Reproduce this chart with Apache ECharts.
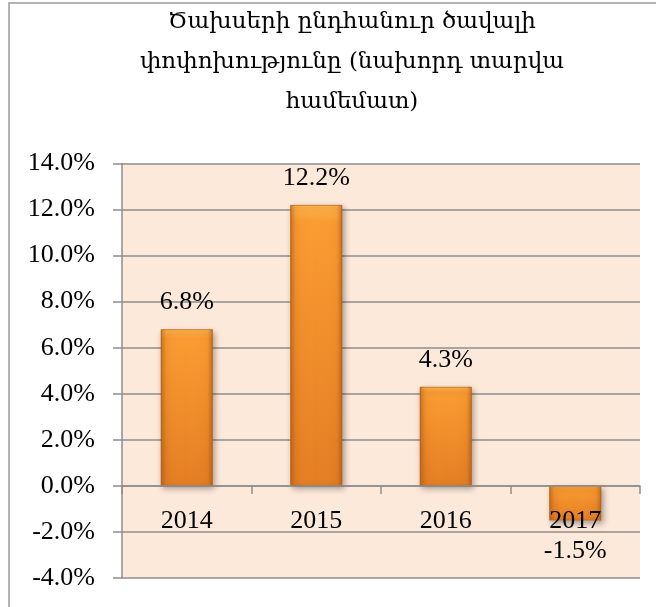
<!DOCTYPE html>
<html>
<head>
<meta charset="utf-8">
<style>
  html, body { margin: 0; padding: 0; background: #ffffff; }
  #chart { width: 656px; height: 607px; }
</style>
<script src="https://cdn.jsdelivr.net/npm/echarts@6/dist/echarts.min.js"></script>
</head>
<body>
<div id="chart"></div>
<script>
// Year-over-year change of total expenditure, percent
const years = ['2014', '2015', '2016', '2017'];
const changePct = [6.8, 12.2, 4.3, -1.5];
const titleLines = ['Ծախսերի ընդհանուր ծավալի', 'փոփոխությունը (նախորդ տարվա', 'համեմատ)'];
const yMin = -4, yMax = 14, yStep = 2;

const serif = '"Liberation Serif", "Times New Roman", serif';
const gridGray = '#8e8e8e';

const W = 656, H = 607;
const gridBox = { left: 122, right: 16, top: 163.5, bottom: 29 };
// the category axis sits on the zero line: shift it up from the bottom edge
const plotH = H - gridBox.top - gridBox.bottom;
const zeroOffset = -plotH * (0 - yMin) / (yMax - yMin);

const chart = echarts.init(document.getElementById('chart'), null, { renderer: 'canvas' });

const pct = v => v.toFixed(1) + '%';

// main bars: vertical orange gradient, labels above (below for negatives)
const barData = changePct.map(v => ({
  value: v,
  label: v < 0 ? { position: 'bottom', distance: 18 } : { position: 'top', distance: 14 }
}));

chart.setOption({
  animation: false,
  backgroundColor: '#ffffff',
  graphic: [
    {
      type: 'rect',
      shape: { x: 9, y: 3, width: 700, height: 700 },
      style: { fill: 'none', stroke: '#9a9a9a', lineWidth: 1.5 },
      z: 0
    },
    {
      type: 'text',
      x: 352,
      y: 2,
      style: {
        text: titleLines.join('\n'),
        font: '23px "DejaVu Serif", serif',
        fill: '#000000',
        textAlign: 'center',
        textVerticalAlign: 'top',
        lineHeight: 40
      },
      z: 10
    }
  ],
  grid: Object.assign({
    show: true, backgroundColor: '#fde9d9', borderWidth: 0,
    containLabel: false, outerBoundsMode: 'none'
  }, gridBox),
  xAxis: {
    type: 'category',
    data: years,
    position: 'bottom',
    offset: zeroOffset,
    z: 10,
    axisLine: { onZero: false, lineStyle: { color: gridGray, width: 1.5 } },
    axisTick: { show: true, length: 8, lineStyle: { color: gridGray, width: 1.5 } },
    axisLabel: { color: '#000', fontFamily: serif, fontSize: 26, margin: 22 },
    splitLine: { show: false }
  },
  yAxis: {
    type: 'value',
    min: yMin, max: yMax, interval: yStep,
    axisLine: { show: true, lineStyle: { color: gridGray, width: 1.5 } },
    axisTick: { show: true, length: 9, lineStyle: { color: gridGray, width: 1.5 } },
    axisLabel: { color: '#000', fontFamily: serif, fontSize: 26, margin: 27, formatter: pct },
    splitLine: { show: true, lineStyle: { color: gridGray, width: 1.5 } }
  },
  series: [
    {
      type: 'bar',
      data: barData,
      barWidth: '40%',
      z: 2,
      itemStyle: {
        color: new echarts.graphic.LinearGradient(0, 0, 0, 1, [
          { offset: 0, color: '#ffb54c' },
          { offset: 0.06, color: '#fb9b30' },
          { offset: 1, color: '#e47d22' }
        ]),
        borderColor: '#c9691c',
        borderWidth: 0.8,
        shadowColor: 'rgba(0,0,0,0.35)',
        shadowBlur: 6,
        shadowOffsetX: 2,
        shadowOffsetY: 3
      },
      label: {
        show: true,
        color: '#000',
        fontFamily: serif,
        fontSize: 26,
        formatter: p => pct(p.value)
      }
    },
    {
      // bevel shading along the bar edges
      type: 'bar',
      data: changePct,
      barWidth: '40%',
      barGap: '-100%',
      silent: true,
      z: 3,
      itemStyle: {
        color: new echarts.graphic.LinearGradient(0, 0, 1, 0, [
          { offset: 0, color: 'rgba(150,70,10,0.45)' },
          { offset: 0.1, color: 'rgba(150,70,10,0.05)' },
          { offset: 0.5, color: 'rgba(255,255,255,0)' },
          { offset: 0.9, color: 'rgba(150,70,10,0.05)' },
          { offset: 1, color: 'rgba(150,70,10,0.45)' }
        ])
      },
      label: { show: false }
    }
  ]
});
</script>
</body>
</html>
